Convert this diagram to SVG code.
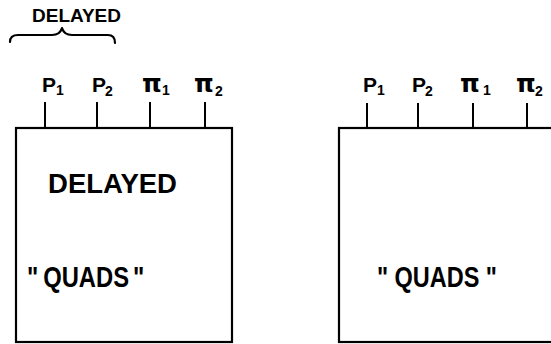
<svg xmlns="http://www.w3.org/2000/svg" width="551" height="344" viewBox="0 0 551 344">
  <style>
    .box { fill: none; stroke: #000; stroke-width: 2.2; }
    .lead { stroke: #000; stroke-width: 2; fill: none; }
    .brace { stroke: #000; stroke-width: 2.2; fill: none; stroke-linecap: round; stroke-linejoin: round; }
    .lbl { font-family: "Liberation Sans", Arial, sans-serif; font-weight: bold; fill: #000; }
    .pin { font-size: 21px; }
    .pi { font-family: "DejaVu Sans", sans-serif; font-weight: bold; font-size: 25px; }
    .sub { font-family: "Liberation Sans", Arial, sans-serif; font-size: 14px; }
    .quads { font-size: 29px; }
  </style>
  <rect width="551" height="344" fill="#fff"/>

  <!-- annotation: brace over P1, P2 -->
  <g id="delayed-brace">
    <text class="lbl" x="32" y="22" font-size="19" textLength="89" lengthAdjust="spacingAndGlyphs">DELAYED</text>
    <path class="brace" d="M10,42 Q10,35 18,35 L52,35 Q60,35 62,28 Q64,35 72,35 L108,35 Q115,35 115,43"/>
  </g>

  <!-- pin leads -->
  <g id="connectors">
    <line class="lead" x1="45" y1="102" x2="45" y2="128"/>
    <line class="lead" x1="97" y1="102" x2="97" y2="128"/>
    <line class="lead" x1="150" y1="102" x2="150" y2="128"/>
    <line class="lead" x1="205" y1="102" x2="205" y2="128"/>
    <line class="lead" x1="367" y1="103" x2="367" y2="128"/>
    <line class="lead" x1="418" y1="103" x2="418" y2="128"/>
    <line class="lead" x1="473" y1="103" x2="473" y2="128"/>
    <line class="lead" x1="527" y1="103" x2="527" y2="128"/>
  </g>

  <!-- delayed quads unit -->
  <g id="delayed-quads">
    <rect class="box" x="16" y="128" width="216" height="214"/>
    <text class="lbl pin" x="42" y="92">P<tspan class="sub" x="56" dy="3">1</tspan></text>
    <text class="lbl pin" x="92" y="92">P<tspan class="sub" x="105" dy="4">2</tspan></text>
    <text class="lbl pi" x="142" y="92">π<tspan class="sub" x="162" dy="3">1</tspan></text>
    <text class="lbl pi" x="194" y="92">π<tspan class="sub" x="215" dy="4">2</tspan></text>
    <text class="lbl" x="48" y="193" font-size="27" textLength="129" lengthAdjust="spacingAndGlyphs">DELAYED</text>
    <text class="lbl quads" transform="translate(27,287) scale(0.82,1)">"<tspan dx="6">QUADS</tspan><tspan dx="5">"</tspan></text>
  </g>

  <!-- quads unit -->
  <g id="quads">
    <rect class="box" x="339" y="128" width="230" height="214"/>
    <text class="lbl pin" x="363" y="92">P<tspan class="sub" x="377" dy="3">1</tspan></text>
    <text class="lbl pin" x="412" y="92">P<tspan class="sub" x="425" dy="4">2</tspan></text>
    <text class="lbl pi" x="460" y="92">π<tspan class="sub" x="483" dy="3">1</tspan></text>
    <text class="lbl pi" x="516" y="92">π<tspan class="sub" x="535" dy="4">2</tspan></text>
    <text class="lbl quads" transform="translate(377,287) scale(0.81,1)">"<tspan dx="8">QUADS</tspan><tspan dx="8">"</tspan></text>
  </g>
</svg>
